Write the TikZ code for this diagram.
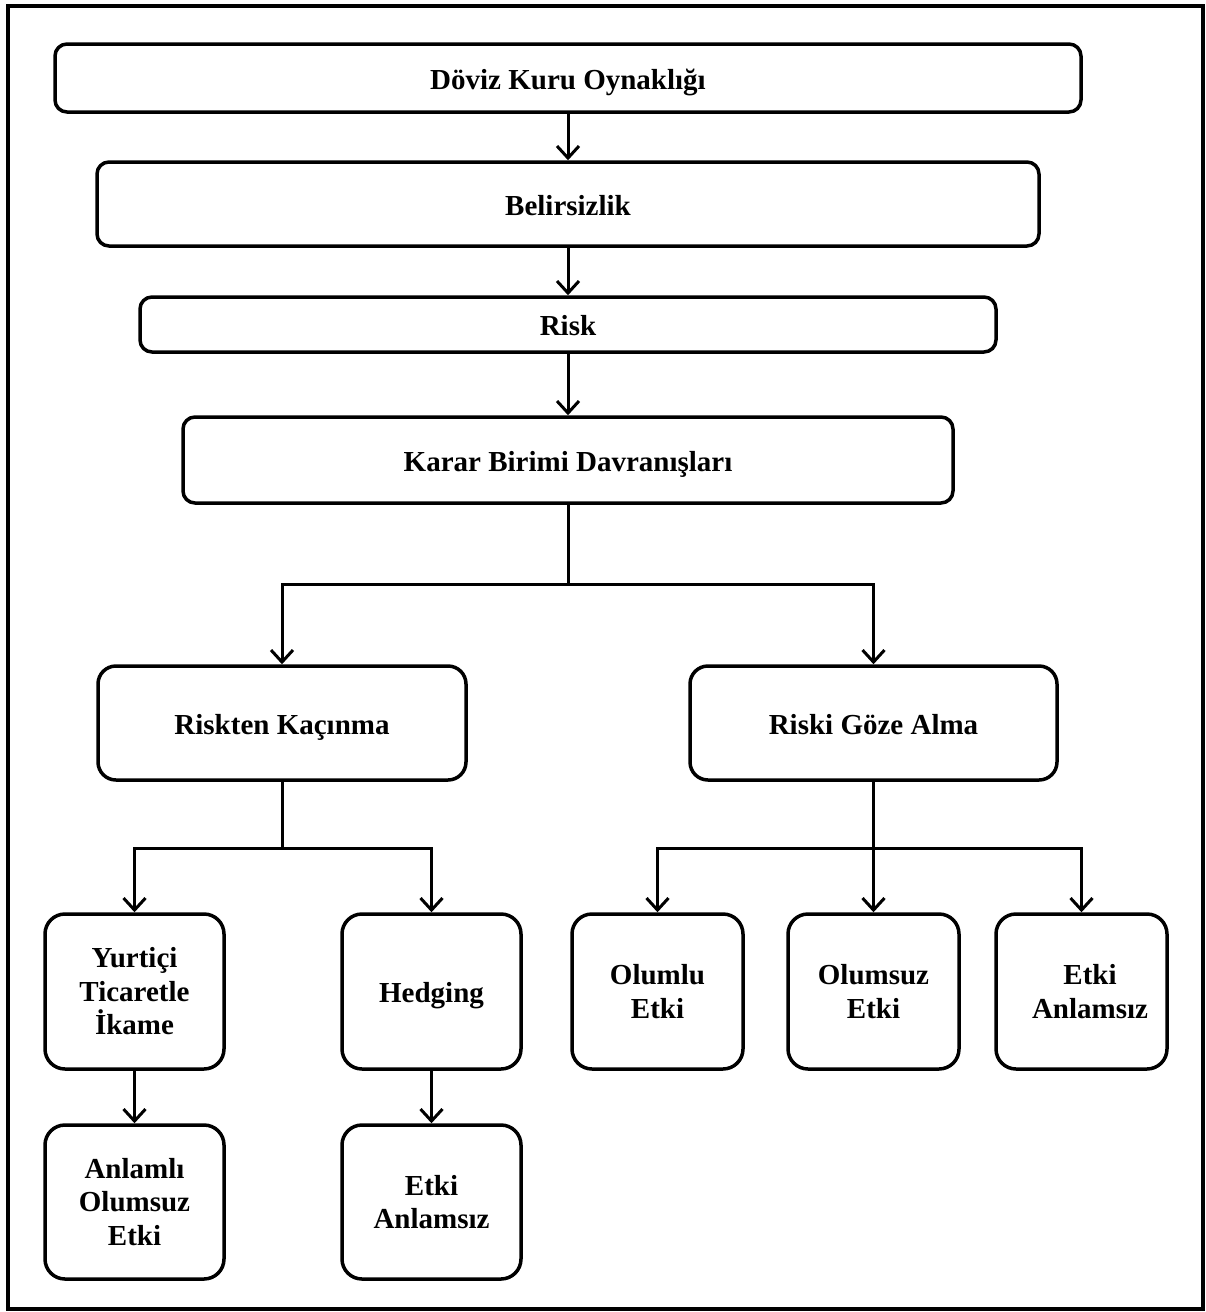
\documentclass[tikz,border=0pt]{standalone}
\usepackage{fontspec}
\setmainfont{Liberation Serif}
\usetikzlibrary{arrows.meta}
\tikzset{
  box/.style={draw, line width=3.5pt, rounded corners=#1, align=center, inner sep=0pt,
    font=\fontsize{29}{33.5}\selectfont\bfseries},
  box/.default=12pt,
  oneline/.style={text height=24pt, text depth=2pt},
  conn/.style={line width=3pt},
  arr/.style={conn, -{Straight Barb[length=12pt,width=22pt,line width=3pt]}}
}
\begin{document}
\begin{tikzpicture}[x=1pt,y=-1pt]
\useasboundingbox (0,0) rectangle (1206,1312);
\draw[line width=4pt] (8,6) rectangle (1203,1309);
% top column
\node[box, oneline, minimum width=1026pt, minimum height=68pt] (n1) at (568,78) {Döviz Kuru Oynaklığı};
\node[box, oneline, minimum width=942pt, minimum height=84pt] (n2) at (568,204) {Belirsizlik};
\node[box, oneline, minimum width=856pt, minimum height=55pt] (n3) at (568,324.5) {Risk};
\node[box, oneline, minimum width=770pt, minimum height=86pt] (n4) at (568,460) {Karar Birimi Davranışları};
% second level
\node[box=18pt, oneline, minimum width=368pt, minimum height=114pt] (n5) at (282,723) {Riskten Kaçınma};
\node[box=18pt, oneline, minimum width=367pt, minimum height=114pt] (n6) at (873.5,723) {Riski Göze Alma};
% third level
\node[box=20pt, minimum width=179pt, minimum height=155pt] (n7) at (134.5,991.5) {Yurtiçi\\Ticaretle\\İkame};
\node[box=20pt, oneline, minimum width=179pt, minimum height=155pt] (n8) at (431.5,991.5) {Hedging};
\node[box=20pt, minimum width=171pt, minimum height=155pt] (n9) at (657.5,991.5) {Olumlu\\Etki};
\node[box=20pt, minimum width=171pt, minimum height=155pt] (n10) at (873.5,991.5) {Olumsuz\\Etki};
\node[box=20pt, minimum width=171pt, minimum height=155pt] (n11) at (1081.5,991.5) {\hspace*{17pt}Etki\\\hspace*{17pt}Anlamsız};
% fourth level
\node[box=20pt, minimum width=179pt, minimum height=154pt] (n12) at (134.5,1202) {Anlamlı\\Olumsuz\\Etki};
\node[box=20pt, minimum width=179pt, minimum height=154pt] (n13) at (431.5,1202) {Etki\\Anlamsız};
% junctions
\coordinate (j1) at (568,584);
\coordinate (j2) at (282,848);
\coordinate (j3) at (873.5,848);
% connectors
\draw[arr] (n1) -- (n2);
\draw[arr] (n2) -- (n3);
\draw[arr] (n3) -- (n4);
\draw[conn] (n4) -- (j1);
\draw[arr] (j1) -| (n5);
\draw[arr] (j1) -| (n6);
\draw[conn] (n5) -- (j2);
\draw[arr] (j2) -| (n7);
\draw[arr] (j2) -| (n8);
\draw[arr] (n6) -- (n10);
\draw[arr] (j3) -| (n9);
\draw[arr] (j3) -| (n11);
\draw[arr] (n7) -- (n12);
\draw[arr] (n8) -- (n13);
\end{tikzpicture}
\end{document}
